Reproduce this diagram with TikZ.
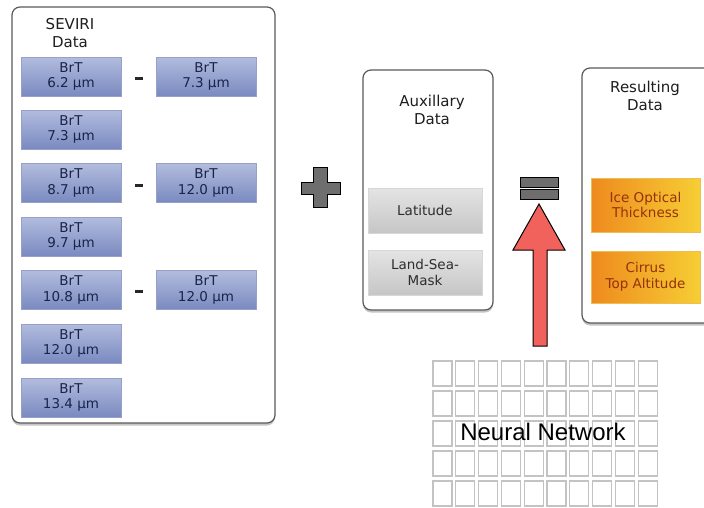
\documentclass[tikz,border=0pt]{standalone}
\usepackage{fontspec}
\newfontfamily\dv{DejaVu Sans}
\newfontfamily\ar{Liberation Sans}
\usetikzlibrary{shadows}
\definecolor{blueTop}{RGB}{178,188,222}
\definecolor{blueBot}{RGB}{122,138,192}
\definecolor{blueTxt}{RGB}{26,36,72}
\definecolor{grayTop}{RGB}{228,228,228}
\definecolor{grayBot}{RGB}{198,198,198}
\definecolor{orL}{RGB}{238,138,30}
\definecolor{orR}{RGB}{246,206,52}
\definecolor{orTxt}{RGB}{150,50,10}
\definecolor{signGray}{RGB}{110,110,110}
\definecolor{arrowRed}{RGB}{242,98,92}
\definecolor{gridGray}{RGB}{195,195,195}
\tikzset{
  panel/.style={draw={rgb,255:red,90;green,90;blue,90}, line width=1.2pt, fill=white, rounded corners=8pt,
    drop shadow={shadow xshift=0pt, shadow yshift=-2.5pt, opacity=0.45}},
  brt/.style={minimum width=100pt, minimum height=39pt, inner sep=0pt, top color=blueTop, bottom color=blueBot,
    draw={rgb,255:red,150;green,160;blue,200}, line width=0.4pt, text=blueTxt, font=\dv\fontsize{13.5}{15.5}\selectfont, align=center},
  auxbox/.style={minimum width=114pt, minimum height=45pt, inner sep=0pt, top color=grayTop, bottom color=grayBot,
    draw={rgb,255:red,215;green,215;blue,215}, line width=0.4pt, text={rgb,255:red,45;green,45;blue,45}, font=\dv\fontsize{13.5}{15.5}\selectfont, align=center},
  resbox/.style={minimum width=109pt, inner sep=0pt, left color=orL, right color=orR,
    draw={rgb,255:red,240;green,190;blue,80}, line width=0.4pt, text=orTxt, font=\dv\fontsize{13.5}{15.5}\selectfont, align=center},
  title/.style={text={rgb,255:red,30;green,30;blue,30}, font=\dv\fontsize{15}{17.5}\selectfont, align=center, inner sep=0pt},
  minus/.style={fill={rgb,255:red,40;green,40;blue,40}, minimum width=8pt, minimum height=3pt, inner sep=0pt},
  sign/.style={fill=signGray, draw=black, line width=0.9pt},
  cell/.style={draw=gridGray, line width=1.2pt},
}
\begin{document}
\begin{tikzpicture}[x=1pt,y=-1pt]
\useasboundingbox (0,0) rectangle (704,507);
\clip (0,0) rectangle (704,507);
\fill[white] (0,0) rectangle (704,507);

% SEVIRI panel
\draw[panel] (12,7) rectangle (275,423);
\node[title] (sevt) at (70,33) {SEVIRI\\Data};
\node[brt] (b1) at (71,76.5) {BrT\\6.2 µm};
\node[brt] (b2) at (71,129.5) {BrT\\7.3 µm};
\node[brt] (b3) at (71,183) {BrT\\8.7 µm};
\node[brt] (b4) at (71,236.5) {BrT\\9.7 µm};
\node[brt] (b5) at (71,290) {BrT\\10.8 µm};
\node[brt] (b6) at (71,343.5) {BrT\\12.0 µm};
\node[brt] (b7) at (71,397.5) {BrT\\13.4 µm};
\node[brt] (r1) at (206,76.5) {BrT\\7.3 µm};
\node[brt] (r3) at (206,183) {BrT\\12.0 µm};
\node[brt] (r5) at (206,290) {BrT\\12.0 µm};
\node[minus] (m1) at (138.5,78.5) {};
\node[minus] (m3) at (138.5,185) {};
\node[minus] (m5) at (138.5,291.5) {};

% plus
\draw[sign] (313,167) -- (327,167) -- (327,182) -- (340,182) -- (340,194) -- (327,194) -- (327,207)
  -- (313,207) -- (313,194) -- (301,194) -- (301,182) -- (313,182) -- cycle;

% Aux panel
\draw[panel] (363,70) rectangle (493,310);
\node[title] (auxt) at (432,110) {Auxillary\\Data};
\node[auxbox] (lat) at (425,210.5) {Latitude};
\node[auxbox] (lsm) at (425,272.5) {Land-Sea-\\Mask};

% equals
\draw[sign] (520,177) rectangle (558,187);
\draw[sign] (520,189) rectangle (558,199);

% Result panel
\draw[panel] (582,68) rectangle (716,323);
\node[title] (rest) at (645,96) {Resulting\\Data};
\node[resbox, minimum height=54pt] (iot) at (645.5,205) {Ice Optical\\Thickness};
\node[resbox, minimum height=52pt] (cta) at (645.5,277) {Cirrus\\Top Altitude};

% Neural network grid
\foreach \c in {0,...,9}{
  \foreach \r in {0,...,4}{
    \draw[cell] ({433+\c*22.8},{361+\r*30}) rectangle ++(19,25);
  }
}
\node[font=\ar\fontsize{24}{27}\selectfont, inner sep=0pt] (nn) at (543,432) {Neural Network};

% red arrow
\draw[fill=arrowRed, draw=black, line width=1pt, line join=miter]
  (539,204) -- (565,250) -- (547,250) -- (547,346) -- (533,346) -- (533,250) -- (513,250) -- cycle;
\end{tikzpicture}
\end{document}
